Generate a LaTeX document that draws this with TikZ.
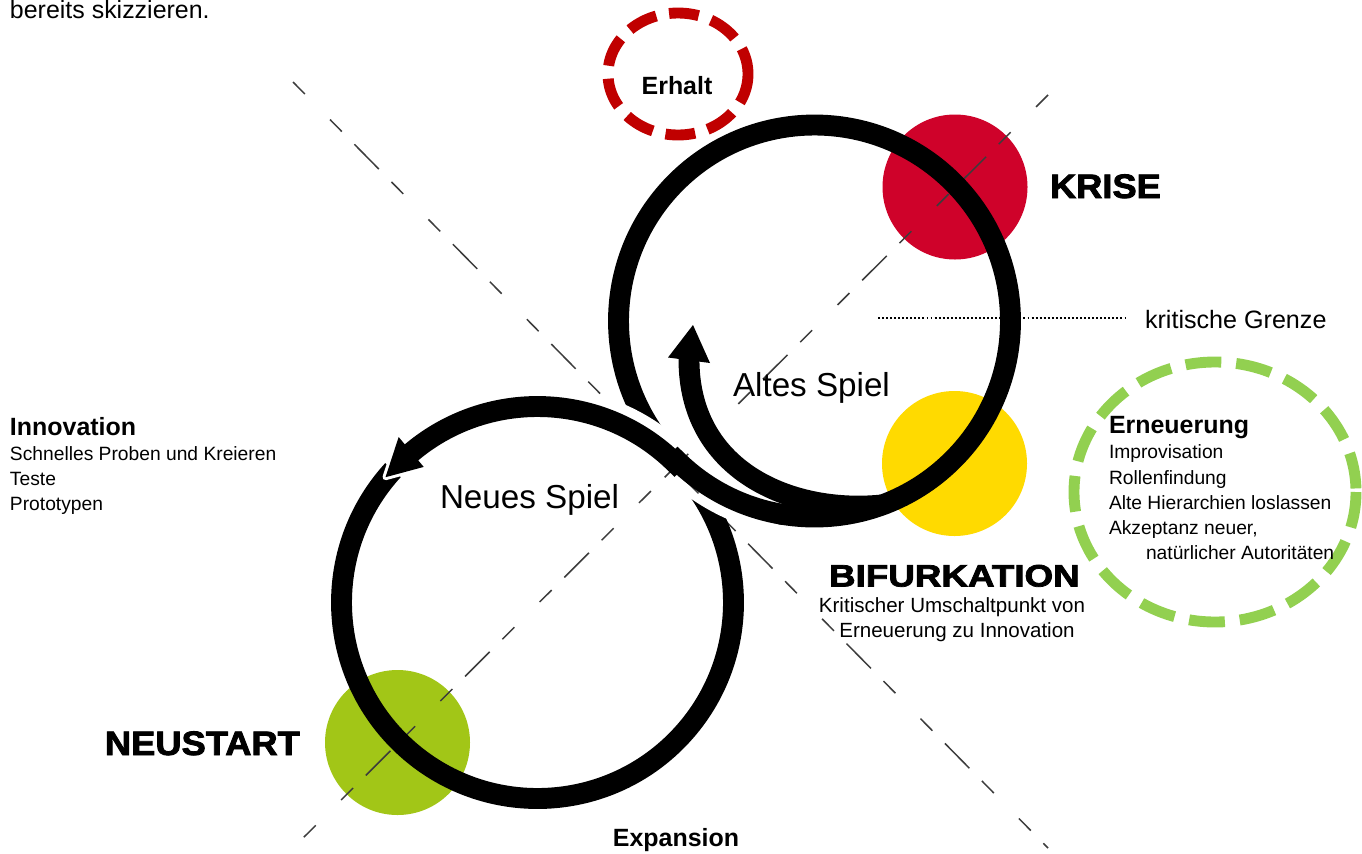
\documentclass[tikz,border=0pt]{standalone}
\usepackage{fontspec}
\setmainfont{Liberation Sans}
\usetikzlibrary{calc}
\definecolor{kred}{RGB}{207,2,42}
\definecolor{kyellow}{RGB}{255,218,0}
\definecolor{kgreen}{RGB}{162,198,23}
\definecolor{dred}{RGB}{192,0,0}
\definecolor{dgreen}{RGB}{146,208,80}
\definecolor{diaggray}{RGB}{60,60,60}
\tikzset{
  ring/.style={draw=black, line width=11.9pt},
  halo/.style={draw=white, line width=23.2pt},
  diag/.style={draw=diaggray, line width=0.85pt, dash pattern=on 9.6pt off 20.4pt on 9.6pt off 10.2pt on 19.8pt off 10.2pt},
  reddash/.style={draw=dred, line width=6.2pt, dash pattern=on 17pt off 7.4pt},
  greendash/.style={draw=dgreen, line width=6.2pt, dash pattern=on 20.4pt off 8.5pt},
  dotline/.style={draw=black, line width=1.1pt, dash pattern=on 1.1pt off 1.2pt},
  lbl/.style={inner sep=0pt, outer sep=0pt, text=black},
  boldlbl/.style={lbl, font=\fontsize{14.2pt}{17pt}\selectfont\bfseries},
  listlbl/.style={lbl, font=\fontsize{10.95pt}{13pt}\selectfont},
  heavylbl/.style={lbl, font=\fontsize{19.3pt}{22pt}\selectfont\bfseries\addfontfeature{FakeBold=2.4}},
  gamelbl/.style={lbl, font=\fontsize{18.9pt}{22pt}\selectfont},
}
\begin{document}
\begin{tikzpicture}[x=0.02cm, y=-0.02cm]
\path[use as bounding box, fill=white] (0,0) rectangle (1362,853);

% centres
\coordinate (U) at (814.5,321);
\coordinate (L) at (537.5,602.5);

% coloured discs
\fill[kred] (955,187) circle[radius=72.5];
\fill[kyellow] (954.5,463.5) circle[radius=72.5];
\fill[kgreen] (397.5,742.5) circle[radius=72.5];

% diagonal dashed axes
\coordinate (d1a) at (293,82);
\coordinate (d1b) at (1048,848);
\coordinate (d2a) at (1048,95);
\coordinate (d2b) at (293,848);
\draw[diag] (d1a) -- (d1b);
\draw[diag] (d2a) -- (d2b);

% rings
\draw[ring] ($(U)+(134.5:196)$) arc[start angle=134.5, end angle=494.5, radius=196];
\draw[ring] ($(L)+(222.5:196)$) arc[start angle=222.5, end angle=-45.5, radius=196];

% white halo along the crossing band
\draw[halo] ($(U)+(100:196)$) arc[start angle=100, end angle=134.5, radius=196]
  -- ($(L)+(314.5:196)$) arc[start angle=314.5, end angle=280, radius=196];

% dashed axes again inside the halo gap
\begin{scope}
\clip ($(U)+(100:216.5)$) arc[start angle=100, end angle=134.5, radius=216.5]
   -- ($(U)+(134.5:175.5)$) arc[start angle=134.5, end angle=100, radius=175.5] -- cycle
   ($(L)+(280:216.5)$) arc[start angle=280, end angle=314.5, radius=216.5]
   -- ($(L)+(314.5:175.5)$) arc[start angle=314.5, end angle=280, radius=175.5] -- cycle;
\draw[diag] (d1a) -- (d1b);
\draw[diag] (d2a) -- (d2b);
\end{scope}

% crossing band (S) into the lower arrow
\draw[ring] ($(U)+(99:196)$) arc[start angle=99, end angle=134.5, radius=196]
  -- ($(L)+(314.5:196)$) arc[start angle=314.5, end angle=229, radius=196];
\coordinate (la1) at ($(L)+(230:216)$);
\coordinate (latip) at ($(L)+(219.5:197)$);
\coordinate (la2) at ($(L)+(230:177)$);
\draw[white, line width=3.4pt, line join=round] (la1) -- (latip) -- (la2);
\fill[black] (la1) -- (latip) -- (la2) -- cycle;

% inner return arrow
\coordinate (ia0) at (881.5,505);
\coordinate (ic1) at (790,514);
\coordinate (ic2) at (688,470);
\coordinate (ia1) at (689,358);
\draw[ring] (ia0) .. controls (ic1) and (ic2) .. (ia1);
\coordinate (ua1) at (668,357.5);
\coordinate (uatip) at (693,325);
\coordinate (ua2) at (710,363);
\fill[black] (ua1) -- (uatip) -- (ua2) -- cycle;

% dotted critical border
\coordinate (g1) at (878,318);
\coordinate (g2) at (1128,318);
\draw[dotline] (g1) -- (g2);

% dashed ellipses
\draw[reddash] (678,74) ellipse[x radius=70, y radius=61];
\draw[greendash] (1215,492) ellipse[x radius=141, y radius=130];

% texts
\node[lbl, anchor=base west, font=\fontsize{14.2pt}{17pt}\selectfont] (tbereits) at (10,18.5) {bereits skizzieren.};
\node[boldlbl, anchor=base] (terhalt) at (677,94) {Erhalt};
\node[heavylbl, anchor=base west, xscale=1.07] (tkrise) at (1050,198) {KRISE};
\node[lbl, anchor=base west, font=\fontsize{14.3pt}{17pt}\selectfont] (tgrenze) at (1145,328) {kritische Grenze};
\node[gamelbl, anchor=base west] (taltes) at (733,396) {Altes Spiel};
\node[gamelbl, anchor=base west] (tneues) at (440,508) {Neues Spiel};

\node[boldlbl, anchor=base west] (tinno) at (10,435) {Innovation};
\node[listlbl, anchor=base west] (ti1) at (10,460) {Schnelles Proben und Kreieren};
\node[listlbl, anchor=base west] (ti2) at (10,485.5) {Teste};
\node[listlbl, anchor=base west] (ti3) at (10,510) {Prototypen};

\node[boldlbl, anchor=base west] (terneu) at (1109,433) {Erneuerung};
\node[listlbl, anchor=base west] (te1) at (1109,458.5) {Improvisation};
\node[listlbl, anchor=base west] (te2) at (1109,484) {Rollenfindung};
\node[listlbl, anchor=base west] (te3) at (1109,509) {Alte Hierarchien loslassen};
\node[listlbl, anchor=base west] (te4) at (1109,534.5) {Akzeptanz neuer,};
\node[listlbl, anchor=base west] (te5) at (1146,559.5) {natürlicher Autoritäten};

\node[heavylbl, anchor=base west, font=\fontsize{17.6pt}{21pt}\selectfont\bfseries\addfontfeature{FakeBold=2.4}, xscale=1.19] (tbif) at (829,586.5) {BIFURKATION};
\node[lbl, anchor=base, font=\fontsize{11.7pt}{14pt}\selectfont] (tb1) at (952,612.5) {Kritischer Umschaltpunkt von};
\node[lbl, anchor=base, font=\fontsize{11.7pt}{14pt}\selectfont] (tb2) at (957,637.5) {Erneuerung zu Innovation};

\node[heavylbl, anchor=base west, xscale=1.07] (tneustart) at (105,755) {NEUSTART};
\node[boldlbl, anchor=base] (texp) at (676,846) {Expansion};
\end{tikzpicture}
\end{document}
